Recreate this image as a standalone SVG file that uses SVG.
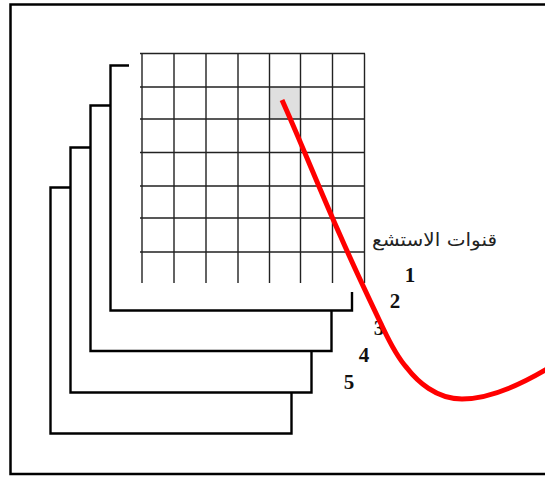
<svg xmlns="http://www.w3.org/2000/svg" width="545" height="477" viewBox="0 0 545 477">
<style>
.frame{fill:none;stroke:#000;stroke-width:2.500}
.layer{fill:none;stroke:#000;stroke-width:2.400}
.grid{fill:none;stroke:#222;stroke-width:1.400}
.num{font-family:"Liberation Serif",serif;font-weight:bold;font-size:21px;fill:#111;text-anchor:middle}
</style>
<rect width="545" height="477" fill="#fff"/>
<g id="frame"><path class="frame" d="M547 4.500H10.500V474H547"/></g>
<g id="layer-5"><path class="layer" d="M70 187.500H50.500V433.500H291.500V393"/></g>
<g id="layer-4"><path class="layer" d="M90 147.500H70.500V392.500H311.500V352"/></g>
<g id="layer-3"><path class="layer" d="M110 105.500H90.500V351H331.500V311"/></g>
<g id="layer-2"><path class="layer" d="M129 65.500H110.500V310.500H352V292"/></g>
<g id="grid">
<rect x="270" y="87" width="30" height="32" fill="#dfdfdf"/>
<path class="grid" d="M142 53.500V283M174 53.500V283M206 53.500V283M238 53.500V283M269.500 53.500V283M300.500 53.500V283M332.500 53.500V283M364.500 53.500V283M140 53.500H365M140 87H365M140 119H365M140 152.500H365M140 186H365M140 218H365M140 252H365"/>
</g>
<g id="labels">
<text x="497" y="246" text-anchor="start" direction="rtl" font-family="'DejaVu Sans',sans-serif" font-size="18" textLength="125" lengthAdjust="spacingAndGlyphs" fill="#222">قنوات الاستشع</text>
<text class="num" x="410" y="282">1</text>
<text class="num" x="395" y="308">2</text>
<text class="num" x="379" y="335">3</text>
<text class="num" x="364" y="362">4</text>
<text class="num" x="349" y="389">5</text>
</g>
<g id="connectors"><path d="M282 100C300 140 322 195 340 235C350 258 372 305 383 328C391 345 398 358 407 368C417 381 436 399 462 399C490 399 520 385 547 369" fill="none" stroke="#f00" stroke-width="5"/></g>
</svg>
